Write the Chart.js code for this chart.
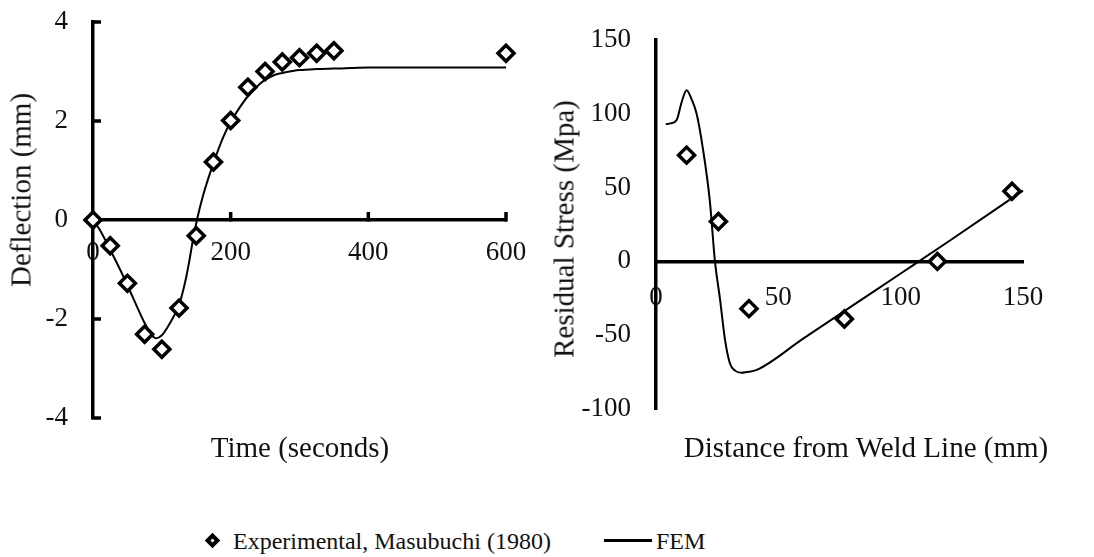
<!DOCTYPE html>
<html>
<head>
<meta charset="utf-8">
<script src="https://cdn.jsdelivr.net/npm/chart.js@4"></script>
<style>
  body { margin: 0; width: 1094px; height: 557px; background: #fff; position: relative; overflow: hidden;
         font-family: "Liberation Serif", "DejaVu Serif", serif; color: #111; }
  canvas { position: absolute; }
  .ttl { position: absolute; white-space: nowrap; line-height: 1; font-size: 29px; transform: translate(-50%, -50%); }
  .ttl.v { transform: translate(-50%, -50%) rotate(-90deg); }
  .lg { position: absolute; white-space: nowrap; line-height: 1; font-size: 24px; transform: translateY(-50%); }
</style>
</head>
<body>
<canvas id="deflChart" width="560" height="486" style="left:0; top:-23px"></canvas>
<canvas id="stressChart" width="554" height="459" style="left:540px; top:-5px"></canvas>

<div class="ttl v" style="left:21px; top:190px">Deflection (mm)</div>
<div class="ttl" style="left:300px; top:447px">Time (seconds)</div>
<div class="ttl v" style="left:564px; top:229px">Residual Stress (Mpa)</div>
<div class="ttl" style="left:866px; top:447px">Distance from Weld Line (mm)</div>

<!-- shared legend -->
<div style="position:absolute; left:207px; top:535px; width:3px; height:3px; border:4px solid #000; transform:rotate(45deg)"></div>
<div class="lg" style="left:233px; top:541px">Experimental, Masubuchi (1980)</div>
<div style="position:absolute; left:604px; top:539px; width:48px; height:3px; background:#000"></div>
<div class="lg" style="left:656px; top:541px">FEM</div>

<script>
// deflection vs time
const timeExp  = [0, 25, 50, 75, 100, 125, 150, 175, 200, 225, 250, 275, 300, 325, 350, 600];
const deflExp  = [0, -0.52, -1.28, -2.31, -2.61, -1.78, -0.32, 1.17, 2.01, 2.68, 3.0, 3.19, 3.28, 3.37, 3.42, 3.37];
const timeFem  = [0, 10, 25, 40, 50, 60, 75, 85, 92, 100, 108, 118, 125, 135, 140, 145, 151, 160, 175, 190, 200, 212, 225, 240, 250, 262, 275, 290, 300, 325, 350, 400, 500, 600];
const deflFem  = [0, -0.2, -0.6, -1.02, -1.32, -1.63, -2.08, -2.32, -2.39, -2.33, -2.17, -1.93, -1.72, -1.18, -0.82, -0.42, 0, 0.5, 1.15, 1.7, 1.98, 2.25, 2.5, 2.72, 2.83, 2.92, 2.97, 3.01, 3.03, 3.05, 3.06, 3.08, 3.08, 3.08];
const timeTicks = [0, 200, 400, 600];
const deflTicks = [-4, -2, 0, 2, 4];

// residual stress vs distance
const distExp   = [12.5, 25.5, 38, 77, 115, 145.5];
const stressExp = [72, 27, -32, -39, 0, 47.5];
const distFem   = [4, 6, 8.5, 10.5, 12.5, 14.5, 16.6, 19.3, 22, 24.1, 26.2, 28.2, 30.2, 32.3, 35, 37, 41.2, 60, 80, 100, 120, 150];
const stressFem = [93, 93.5, 96, 108, 116, 110, 100, 75, 41, 0, -26, -53, -69, -74, -75.5, -75, -73.5, -52.5, -30.3, -8.2, 14, 48];
const distTicks   = [0, 50, 100, 150];
const stressTicks = [-100, -50, 0, 50, 100, 150];

const pts = (xs, ys) => xs.map((x, i) => ({ x, y: ys[i] }));
const fixTicks = vals => scale => { scale.ticks = vals.map(v => ({ value: v })); };
const tickFont = { family: 'Liberation Serif', size: 27 };

// short tick marks drawn inside the plot, off the axis lines
const innerTicks = {
  id: 'innerTicks',
  beforeDatasetsDraw(chart, args, opts) {
    if (!opts.len) return;
    const { ctx, scales: { x, y } } = chart;
    const x0 = x.getPixelForValue(0), y0 = y.getPixelForValue(0);
    ctx.save();
    ctx.strokeStyle = '#000';
    ctx.lineWidth = 3.5;
    ctx.beginPath();
    x.ticks.forEach(t => {
      if (t.value === 0) return;
      const px = x.getPixelForValue(t.value);
      ctx.moveTo(px, y0 + 1.5); ctx.lineTo(px, y0 - opts.len);
    });
    y.ticks.forEach(t => {
      if (t.value === 0) return;
      const py = y.getPixelForValue(t.value);
      ctx.moveTo(x0 - 1.5, py); ctx.lineTo(x0 + opts.len, py);
    });
    ctx.stroke();
    ctx.restore();
  }
};

function makeChart(id, exp, fem, xTicks, yTicks, yWidth, xPad, padding, tickLen) {
  return new Chart(document.getElementById(id), {
    type: 'scatter',
    data: {
      datasets: [
        {
          label: 'Experimental, Masubuchi (1980)',
          data: exp,
          pointStyle: 'rectRot',
          pointRadius: 8,
          pointBorderWidth: 3.5,
          borderColor: '#000',
          backgroundColor: '#fff',
          clip: false
        },
        {
          label: 'FEM',
          data: fem,
          showLine: true,
          pointRadius: 0,
          borderColor: '#000',
          borderWidth: 2,
          cubicInterpolationMode: 'monotone',
          clip: false
        }
      ]
    },
    options: {
      responsive: false,
      animation: false,
      devicePixelRatio: 1,
      layout: { padding },
      plugins: {
        legend: { display: false },
        tooltip: { enabled: false },
        innerTicks: { len: tickLen }
      },
      scales: {
        x: {
          type: 'linear',
          position: { y: 0 },
          min: xTicks[0],
          max: xTicks[xTicks.length - 1],
          afterBuildTicks: fixTicks(xTicks),
          grid: { display: false, drawTicks: false },
          border: { display: true, color: '#000', width: 3.5 },
          ticks: { color: '#111', font: tickFont, padding: xPad, maxRotation: 0, autoSkip: false }
        },
        y: {
          type: 'linear',
          position: 'left',
          min: yTicks[0],
          max: yTicks[yTicks.length - 1],
          afterBuildTicks: fixTicks(yTicks),
          afterFit: scale => { scale.width = yWidth; },
          grid: { display: false, drawTicks: false },
          border: { display: true, color: '#000', width: 3.5 },
          ticks: { color: '#111', font: tickFont, padding: 25 }
        }
      }
    },
    plugins: [innerTicks]
  });
}

makeChart('deflChart', pts(timeExp, deflExp), pts(timeFem, deflFem),
  timeTicks, deflTicks, 93, 17, { left: 0, top: 45, right: 54, bottom: 45 }, 8);

makeChart('stressChart', pts(distExp, stressExp), pts(distFem, stressFem),
  distTicks, stressTicks, 116, 20, { left: 0, top: 45, right: 71, bottom: 45 }, 0);
</script>
</body>
</html>
